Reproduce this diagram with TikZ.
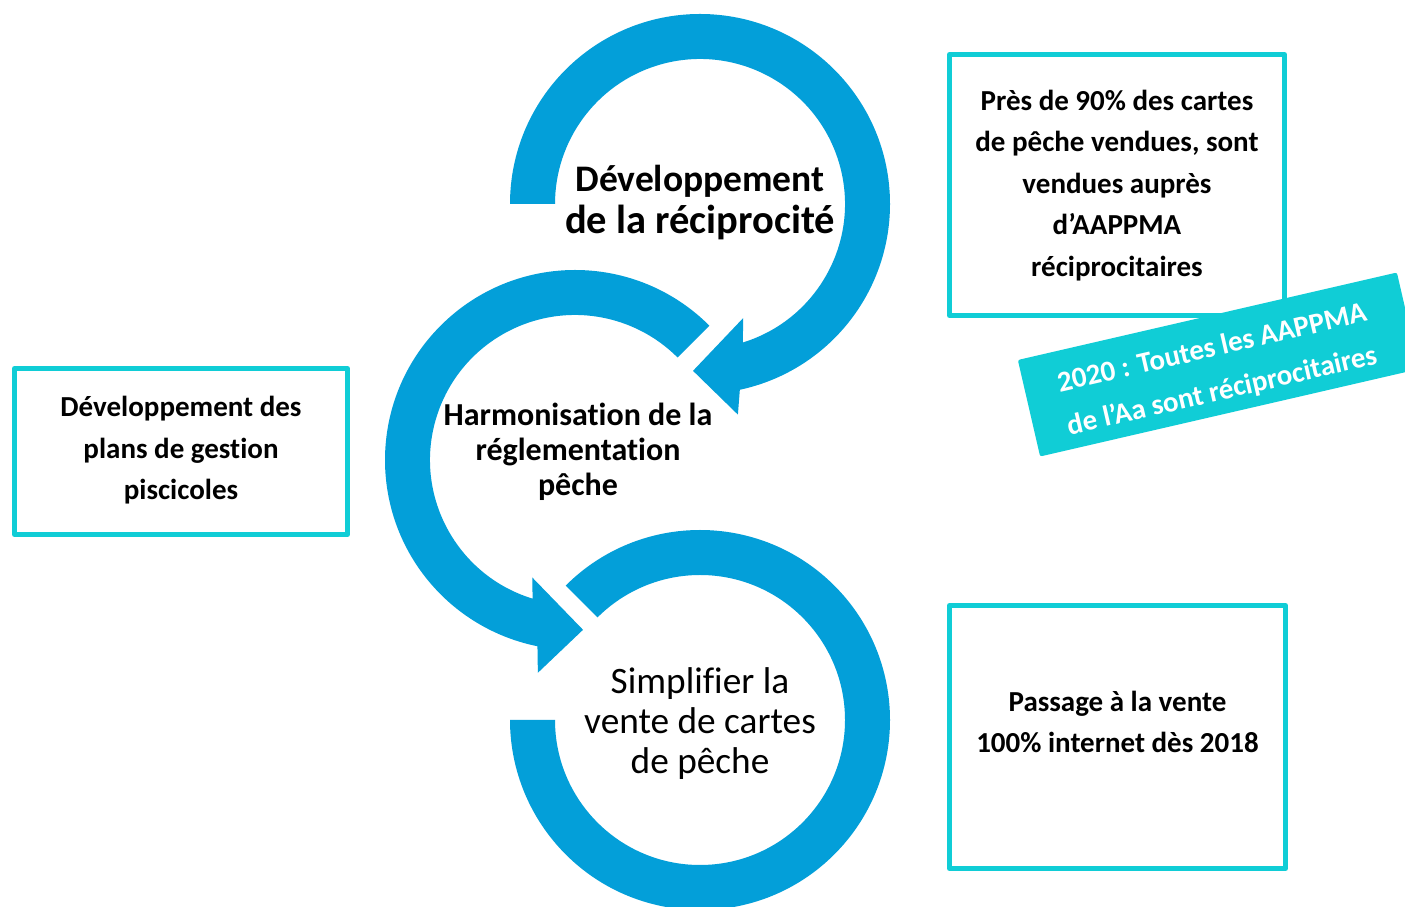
\documentclass[tikz,border=0pt]{standalone}
\usepackage{fontspec}
\setmainfont{Carlito}[Ligatures=NoCommon]
\usetikzlibrary{calc}
\definecolor{arrowblue}{RGB}{3,159,217}
\definecolor{boxteal}{RGB}{16,205,214}
\begin{document}
\begin{tikzpicture}[x=1pt,y=1pt,
  ring/.style={fill=arrowblue},
  infobox/.style={draw=boxteal,line width=5pt,line join=round,minimum width=#1},
  infotext/.style={align=center,inner sep=0pt,font=\bfseries\fontsize{29}{41.5}\selectfont},
  banner/.style={fill=boxteal,rounded corners=2pt,rotate=13,minimum width=389pt,minimum height=99pt,inner sep=0pt},
  bannertext/.style={rotate=13,inner sep=0pt,text=white,align=center,font=\bfseries\fontsize{29}{44}\selectfont}]
\useasboundingbox (0,0) rectangle (1405,907);
\clip (0,0) rectangle (1405,907);
\fill[white] (0,0) rectangle (1405,907);
\coordinate (c1) at (700,703);
\coordinate (c2) at (575,447);
\coordinate (c3) at (700,187);
% top circular arrow
\fill[ring] ($(c1)+(180:190)$) arc[start angle=180,end angle=-77.9,radius=190]
  -- ($(c1)+(-79.8:214)$) -- ($(c1)+(-92.4:167)$) -- ($(c1)+(-69.3:122)$)
  -- ($(c1)+(-72.8:145)$) arc[start angle=-72.8,end angle=180,radius=145] -- cycle;
% middle circular arrow
\fill[ring] ($(c2)+(45:190)$) arc[start angle=45,end angle=258.6,radius=190]
  -- ($(c2)+(260.1:216)$) -- ($(c2)+(272.7:170)$) -- ($(c2)+(250:125)$)
  -- ($(c2)+(253:145)$) arc[start angle=253,end angle=45,radius=145] -- cycle;
% bottom ring
\fill[ring] ($(c3)+(135:190)$) arc[start angle=135,end angle=-180,radius=190]
  -- ($(c3)+(180:145)$) arc[start angle=-180,end angle=135,radius=145] -- cycle;
% circle labels
\node[align=center,inner sep=0pt,font=\bfseries\fontsize{40.5}{42}\selectfont] (l1) at (700,704)
  {\fontsize{37.5}{42}\selectfont Développement\\de la réciprocité};
\node[align=center,inner sep=0pt,font=\bfseries\fontsize{32}{35}\selectfont] (l2) at (578,455)
  {Harmonisation de la\\réglementation\\pêche};
\node[align=center,inner sep=0pt,font=\fontsize{37.3}{40}\selectfont] (l3) at (700,183.5)
  {Simplifier la\\vente de cartes\\de pêche};
% boxes
\node[infobox=335pt,minimum height=261pt] (b1) at (1117,722) {};
\node[infotext] (t1) at (1117,721.4)
  {Près de 90\% des cartes\\de pêche vendues, sont\\vendues auprès\\d’AAPPMA\\réciprocitaires};
\node[infobox=333pt,minimum height=166pt] (b2) at (181,455.5) {};
\node[infotext] (t2) at (181,456.5)
  {Développement des\\plans de gestion\\piscicoles};
\node[infobox=336pt,minimum height=263pt] (b3) at (1117.5,170) {};
\node[infotext] (t3) at (1117.5,185)
  {Passage à la vente\\100\% internet dès 2018};
% banner
\node[banner] (bn) at (1218.5,542.5) {};
\node[bannertext] (bt) at ($(bn.center)+(-103:6)$) {2020 : Toutes les AAPPMA\\de l’Aa sont réciprocitaires};
\end{tikzpicture}
\end{document}
